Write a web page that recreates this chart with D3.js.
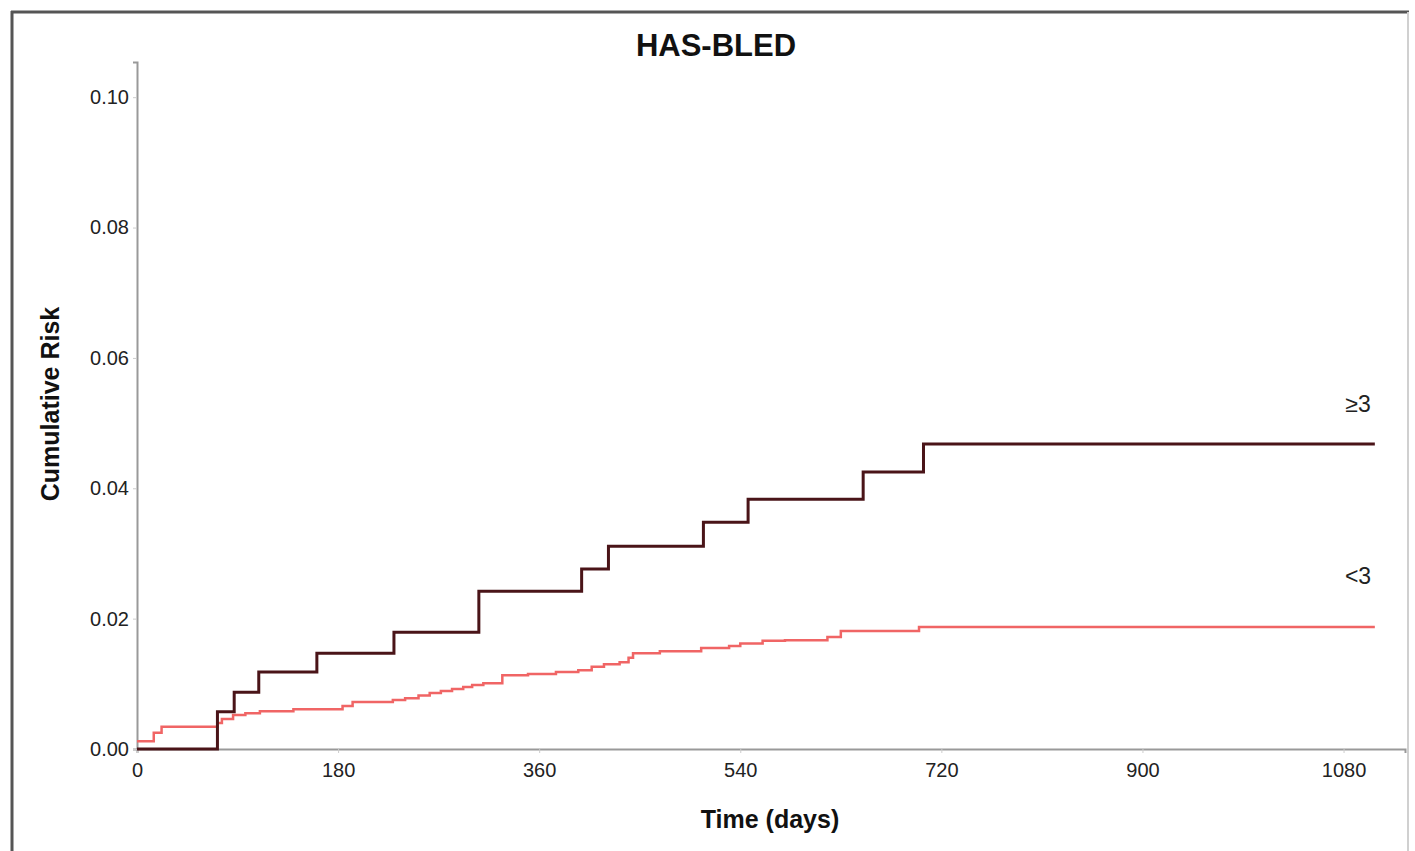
<!DOCTYPE html>
<html>
<head>
<meta charset="utf-8">
<script src="https://cdn.jsdelivr.net/npm/d3@7"></script>
<style>
  html, body { margin: 0; padding: 0; background: #fff; }
  svg { display: block; font-family: "Liberation Sans", Arial, sans-serif; }
</style>
</head>
<body>
<svg id="chart" width="1415" height="851"></svg>
<script>
// HAS-BLED >= 3 (step times in days, cumulative risk)
const highDays = [0, 72, 87, 109, 161, 230, 306, 398, 422, 507, 547, 650, 704, 1108];
const highRisk = [0, 0.0057, 0.0087, 0.0118, 0.0147, 0.0179, 0.0242, 0.0276, 0.0311, 0.0348, 0.0383, 0.0425, 0.0468, 0.0468];

// HAS-BLED < 3
const lowDays = [0, 15, 22, 72, 76, 86, 97, 110, 140, 184, 193, 229, 240, 252, 262, 272, 282, 292, 300, 310,
  327, 350, 375, 395, 407, 418, 432, 440, 444, 468, 505, 530, 540, 560, 580, 618, 630, 700, 1108];
const lowRisk = [0.0012, 0.0025, 0.0034, 0.0040, 0.0046, 0.0052, 0.0055, 0.0058, 0.0061, 0.0066, 0.0072, 0.0075,
  0.0078, 0.0082, 0.0086, 0.0089, 0.0092, 0.0095, 0.0098, 0.0101, 0.0113, 0.0115, 0.0118, 0.0121, 0.0126, 0.0130,
  0.0133, 0.0140, 0.0147, 0.0150, 0.0155, 0.0158, 0.0162, 0.0166, 0.0167, 0.0172, 0.0181, 0.0187, 0.0187];

const xTicks = [0, 180, 360, 540, 720, 900, 1080];
const yTicks = [0, 0.02, 0.04, 0.06, 0.08, 0.10];
const groupLabels = ['≥3', '<3'];

const svg = d3.select('#chart');

// outer frame
svg.append('line').attr('x1', 12).attr('x2', 12).attr('y1', 11).attr('y2', 860)
  .attr('stroke', '#555').attr('stroke-width', 3);
svg.append('line').attr('x1', 11).attr('x2', 1409).attr('y1', 12).attr('y2', 12)
  .attr('stroke', '#555').attr('stroke-width', 3);
svg.append('line').attr('x1', 1408).attr('x2', 1408).attr('y1', 12).attr('y2', 860)
  .attr('stroke', '#d0d0d0').attr('stroke-width', 2);

const x = d3.scaleLinear().domain([0, 1135]).range([137, 1405]);
const y = d3.scaleLinear().domain([0, 0.1054]).range([749, 62]);

// axes
const xAxis = svg.append('g')
  .attr('transform', `translate(0,${y(0)})`)
  .call(d3.axisBottom(x).tickValues(xTicks).tickFormat(d3.format('d')).tickSize(4).tickPadding(10));
const yAxis = svg.append('g')
  .attr('transform', `translate(${x(0)},0)`)
  .call(d3.axisLeft(y).tickValues(yTicks).tickFormat(d3.format('.2f')).tickSize(4).tickPadding(4));

[xAxis, yAxis].forEach(g => {
  g.select('.domain').attr('stroke', '#999').attr('stroke-width', 2);
  g.selectAll('.tick line').attr('stroke', '#ccc');
  g.selectAll('.tick text').attr('fill', '#222').attr('font-size', 20)
    .attr('font-family', '"Liberation Sans", Arial, sans-serif');
});

// curves
const line = d3.line()
  .x(d => x(d[0]))
  .y(d => y(d[1]))
  .curve(d3.curveStepAfter);

svg.append('path')
  .datum(lowDays.map((d, i) => [d, lowRisk[i]]))
  .attr('fill', 'none')
  .attr('stroke', '#f06565')
  .attr('stroke-width', 2.5)
  .attr('d', line);

svg.append('path')
  .datum(highDays.map((d, i) => [d, highRisk[i]]))
  .attr('fill', 'none')
  .attr('stroke', '#4a1418')
  .attr('stroke-width', 3)
  .attr('d', line);

// group labels at the right end
svg.selectAll('text.group')
  .data([[groupLabels[0], 0.0527], [groupLabels[1], 0.0262]])
  .join('text')
  .attr('class', 'group')
  .attr('x', 1358)
  .attr('y', d => y(d[1]))
  .attr('text-anchor', 'middle')
  .attr('dominant-baseline', 'middle')
  .attr('font-size', 23)
  .attr('fill', '#222')
  .text(d => d[0]);

// titles
svg.append('text')
  .attr('x', 716).attr('y', 56)
  .attr('text-anchor', 'middle')
  .attr('font-size', 31).attr('font-weight', 'bold').attr('fill', '#111')
  .text('HAS-BLED');

svg.append('text')
  .attr('x', 770).attr('y', 828)
  .attr('text-anchor', 'middle')
  .attr('font-size', 25).attr('font-weight', 'bold').attr('fill', '#111')
  .text('Time (days)');

svg.append('text')
  .attr('transform', 'translate(59,404) rotate(-90)')
  .attr('text-anchor', 'middle')
  .attr('font-size', 25).attr('font-weight', 'bold').attr('fill', '#111')
  .text('Cumulative Risk');
</script>
</body>
</html>
